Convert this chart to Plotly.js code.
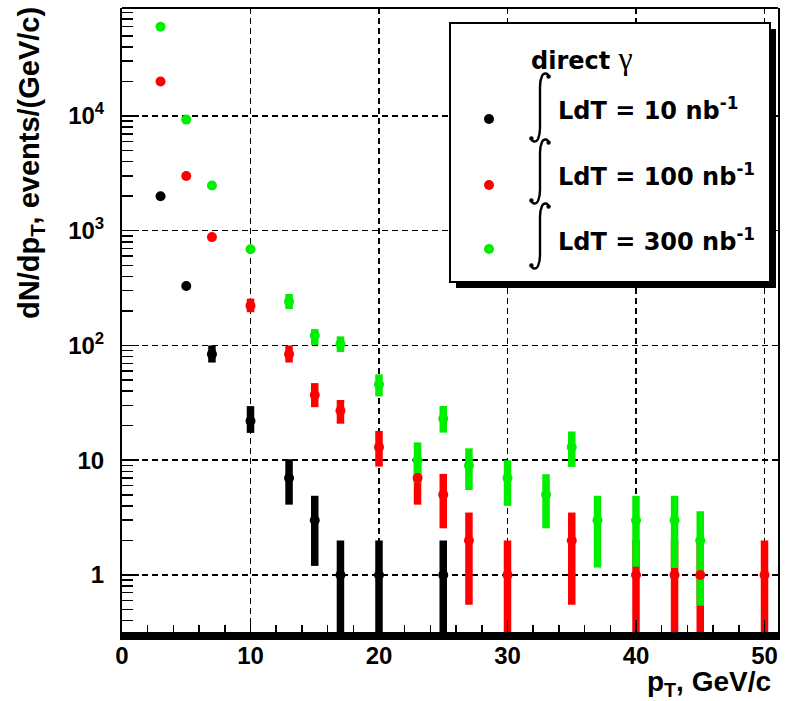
<!DOCTYPE html>
<html><head><meta charset="utf-8">
<script src="https://cdn.plot.ly/plotly-3.0.1.min.js"></script>
<style>html,body{margin:0;padding:0;background:#fff}</style>
</head><body>
<div id="chart" style="width:790px;height:701px"></div>
<script>
// ---- data ----
const seriesNames = ['LdT = 10 nb<sup>-1</sup>', 'LdT = 100 nb<sup>-1</sup>', 'LdT = 300 nb<sup>-1</sup>'];
const seriesColors = ['#000000', '#ff0000', '#00ee00'];

const ptBlack = [3, 5, 7, 10, 13, 15, 17, 20, 25];
const valBlack = [2000, 330, 84, 22, 7, 3, 1, 1, 1];
const errUpBlack = [45, 18, 16, 7.6, 3.2, 1.9, 1, 1, 1];
const errDnBlack = [45, 18, 13, 4.7, 2.9, 1.8, 1, 1, 1];

const ptRed = [3, 5, 7, 10, 13, 15, 17, 20, 23, 25, 27, 30, 35, 40, 43, 45, 50];
const valRed = [20000, 3000, 880, 222, 84, 37, 27, 13, 7, 5, 2, 1, 2, 1, 1, 1, 1];
const errUpRed = [140, 55, 30, 34, 16, 10, 6.5, 5, 2.65, 2.6, 1.5, 1, 1.5, 1, 1, 1, 1];
const errDnRed = [140, 55, 30, 27, 13, 8, 6.2, 4.2, 2.9, 2.45, 1.45, 1, 1.45, 1, 1, 1, 1];

const ptGreen = [3, 5, 7, 10, 13, 15, 17, 20, 23, 25, 27, 30, 33, 35, 37, 40, 43, 45];
const valGreen = [60000, 9300, 2480, 690, 242, 122, 103, 46, 10, 23, 9, 7, 5, 13, 3, 3, 3, 2];
const errUpGreen = [245, 96, 50, 26, 39, 17, 17, 10, 4.3, 6.7, 3.7, 3, 2.55, 4.8, 1.9, 1.9, 1.9, 1.6];
const errDnGreen = [245, 96, 50, 26, 34, 21, 15.5, 10, 3.6, 5.6, 3.5, 3, 2.45, 4.25, 1.84, 1.82, 1.85, 1.46];

const yTickVals = [1, 10, 100, 1000, 10000];
const yTickText = ['1', '10', '10<sup>2</sup>', '10<sup>3</sup>', '10<sup>4</sup>'];
const xTickVals = [0, 10, 20, 30, 40, 50];
const xTickText = ['0', '10', '20', '30', '40', '50'];

const legendTitle = 'direct <span style="font-family:\'Liberation Serif\';font-weight:normal;font-size:32px">γ</span>';
const xTitle = 'p<sub>T</sub>, GeV/c';
const yTitle = 'dN/dp<sub>T</sub>, events/(GeV/c)';

// ---- traces ----
const sets = [
  [ptBlack, valBlack, errUpBlack, errDnBlack],
  [ptRed, valRed, errUpRed, errDnRed],
  [ptGreen, valGreen, errUpGreen, errDnGreen]
];
const traces = [];
sets.forEach((s, i) => {
  traces.push({
    type: 'scatter', mode: 'markers', x: s[0], y: s[1],
    marker: {size: 10, color: seriesColors[i], opacity: 0},
    error_y: {type: 'data', symmetric: false, array: s[2], arrayminus: s[3],
              color: seriesColors[i], thickness: 7.5, width: 0},
    showlegend: false, hoverinfo: 'skip'
  });
});
sets.forEach((s, i) => {
  traces.push({
    type: 'scatter', mode: 'markers', x: s[0], y: s[1], name: seriesNames[i],
    marker: {size: 10, color: seriesColors[i], symbol: 'circle'},
    showlegend: false
  });
});

const FONT = 'Liberation Sans, Arial, Helvetica, sans-serif';
const LFONT = 'DejaVu Sans, Verdana, sans-serif';
const axLine = '#000';

// pixel->paper helpers for decoration placement
const L = 122, R = 12, T = 8, B = 69, W = 790, H = 701;
const pw = W - L - R, ph = H - T - B;
const px = v => (v - L) / pw;
const py = v => (H - B - v) / ph;

// legend box geometry (pixels)
const legendMarkerY = [119, 185, 249];
const legendTextY = [109, 175, 240];
const integralSpans = [[72, 143], [138, 205], [202, 270]];

function integralPath(yt, yb) {
  const P = (x, y) => px(x).toFixed(5) + ',' + py(y).toFixed(5);
  return 'M' + P(549, yt + 5) +
    ' C' + P(548, yt + 1) + ' ' + P(544, yt) + ' ' + P(542, yt + 4) +
    ' C' + P(540.6, yt + 7) + ' ' + P(540, yt + 10) + ' ' + P(540, yt + 15) +
    ' L' + P(540, yb - 15) +
    ' C' + P(540, yb - 10) + ' ' + P(539.4, yb - 7) + ' ' + P(538, yb - 4) +
    ' C' + P(536, yb) + ' ' + P(532, yb - 1) + ' ' + P(531, yb - 5);
}
const decoShapes = [];
integralSpans.forEach(([a, b]) => {
  decoShapes.push({type: 'path', xref: 'paper', yref: 'paper', path: integralPath(a, b),
                   line: {color: '#000', width: 2.4}, layer: 'above'});
  [[548.6, a + 4.6], [531.4, b - 4.6]].forEach(([cx, cy]) => {
    decoShapes.push({type: 'circle', xref: 'paper', yref: 'paper',
      x0: px(cx - 2.2), x1: px(cx + 2.2), y0: py(cy + 2.2), y1: py(cy - 2.2),
      fillcolor: '#000', line: {width: 0}, layer: 'above'});
  });
});
legendMarkerY.forEach((y, i) => {
  decoShapes.push({type: 'circle', xref: 'paper', yref: 'paper',
    x0: px(489 - 5), x1: px(489 + 5), y0: py(y + 5), y1: py(y - 5),
    fillcolor: seriesColors[i], line: {width: 0}, layer: 'above'});
});
const legendAnn = seriesNames.map((t, i) => ({
  text: t, xref: 'paper', yref: 'paper', x: px(556), y: py(legendTextY[i]),
  xanchor: 'left', yanchor: 'middle', showarrow: false,
  font: {family: LFONT, size: 24, weight: 'bold', color: '#000'}
}));

const layout = {
  width: W, height: H,
  margin: {l: L, r: R, t: T, b: B, pad: 0, autoexpand: false},
  paper_bgcolor: '#fff', plot_bgcolor: '#fff',
  font: {family: FONT, size: 24, color: '#000', weight: 'bold'},
  showlegend: false,
  xaxis: {
    range: [0, 51.05], tickmode: 'array', tickvals: xTickVals, ticktext: xTickText,
    ticks: 'inside', ticklen: 12, tickwidth: 1.5, tickcolor: axLine,
    showgrid: true, gridcolor: '#000', gridwidth: 1.5, griddash: '6px,4px',
    showline: true, linewidth: 8, linecolor: axLine, zeroline: false,
    tickfont: {family: FONT, size: 24, weight: 'bold'}, ticklabelstandoff: -5,
    minor: {dtick: 2, tick0: 0, ticks: 'inside', ticklen: 7, tickwidth: 1.5, tickcolor: axLine, showgrid: false}
  },
  yaxis: {
    type: 'log', range: [-0.497, 4.941], tickmode: 'array', tickvals: yTickVals, ticktext: yTickText,
    ticks: 'inside', ticklen: 17, tickwidth: 1.5, tickcolor: axLine,
    showgrid: true, gridcolor: '#000', gridwidth: 1.5, griddash: '6px,4px',
    showline: true, linewidth: 2, linecolor: axLine, mirror: true, zeroline: false,
    tickfont: {family: FONT, size: 24, weight: 'bold'}, ticklabelstandoff: 11,
    minor: {dtick: 'D1', ticks: 'inside', ticklen: 11, tickwidth: 1.5, tickcolor: axLine, showgrid: false}
  },
  shapes: [
    {type: 'line', xref: 'paper', yref: 'paper', x0: 0, x1: 1, y0: 1, y1: 1, line: {color: '#000', width: 2}, layer: 'above'},
    {type: 'rect', xref: 'paper', yref: 'paper', x0: px(456), x1: px(776), y0: py(288), y1: py(29),
     fillcolor: '#000', line: {width: 0}, layer: 'above'},
    {type: 'rect', xref: 'paper', yref: 'paper', x0: px(450), x1: px(770), y0: py(282), y1: py(23),
     fillcolor: '#fff', line: {color: '#000', width: 2}, layer: 'above'}
  ].concat(decoShapes),
  annotations: [
    {text: legendTitle, xref: 'paper', yref: 'paper', x: px(529), y: py(58), xanchor: 'left', yanchor: 'middle',
     showarrow: false, font: {family: LFONT, size: 24, weight: 'bold'}},
    {text: xTitle, xref: 'paper', yref: 'paper', x: px(773), y: py(683), xanchor: 'right', yanchor: 'middle',
     showarrow: false, font: {family: FONT, size: 28, weight: 'bold'}},
    {text: yTitle, xref: 'paper', yref: 'paper', x: px(31), y: py(5), xanchor: 'center', yanchor: 'top',
     textangle: -90, showarrow: false, font: {family: FONT, size: 29, weight: 'bold'}}
  ].concat(legendAnn)
};

Plotly.newPlot('chart', traces, layout, {displayModeBar: false, staticPlot: true});
</script>
</body></html>
